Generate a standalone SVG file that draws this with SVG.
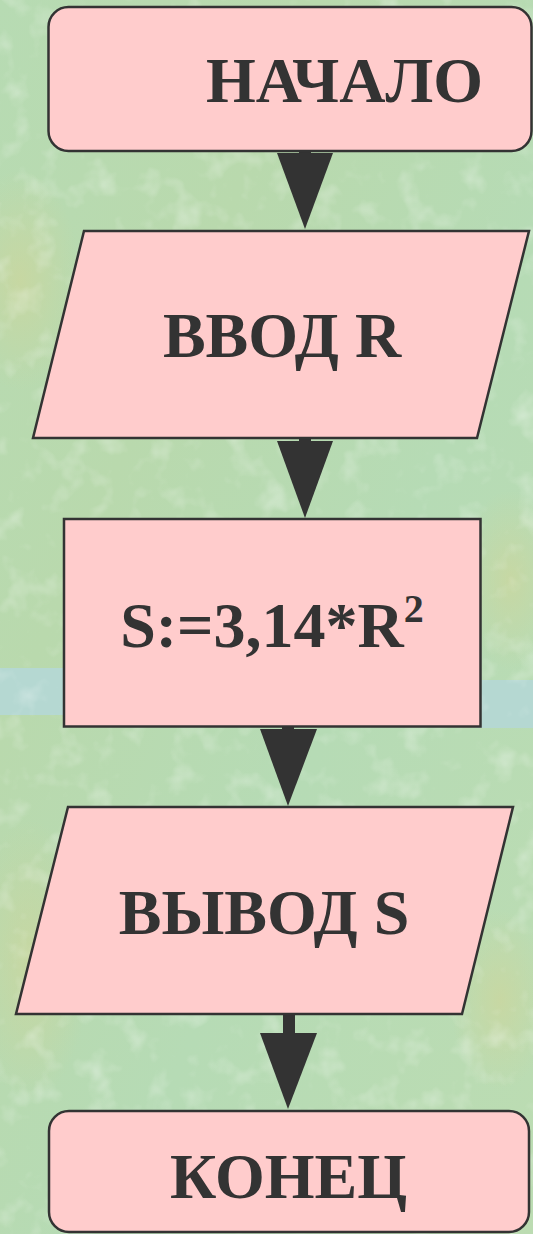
<svg xmlns="http://www.w3.org/2000/svg" width="533" height="1234" viewBox="0 0 533 1234">
<style>
.box{fill:#ffcccc;stroke:#333333;stroke-width:2.5;stroke-linejoin:miter}
.lbl{font-family:"Liberation Serif","Times New Roman",serif;font-weight:bold;font-size:64px;fill:#333333;text-anchor:middle}
.arr{fill:#333333;stroke:none}
</style>
<defs>
<linearGradient id="bg" x1="0" y1="0" x2="1" y2="1">
<stop offset="0" stop-color="#b7dbb3"/>
<stop offset="0.3" stop-color="#b9d9ad"/>
<stop offset="0.6" stop-color="#b6dbb5"/>
<stop offset="1" stop-color="#bcdcb2"/>
</linearGradient>
<radialGradient id="yel" cx="0.5" cy="0.5" r="0.5">
<stop offset="0" stop-color="#cdd69c" stop-opacity="0.7"/>
<stop offset="1" stop-color="#cdd69c" stop-opacity="0"/>
</radialGradient>
<filter id="tex" x="0" y="0" width="100%" height="100%">
<feTurbulence type="fractalNoise" baseFrequency="0.035" numOctaves="3" seed="7" result="n"/>
<feColorMatrix in="n" type="matrix" values="0 0 0 0 1  0 0 0 0 1  0 0 0 0 1  0 0 0 2.2 -1.15"/>
</filter>
</defs>
<g id="background">
<rect x="0" y="0" width="533" height="1234" fill="url(#bg)"/>
<ellipse cx="20" cy="280" rx="60" ry="110" fill="url(#yel)"/>
<ellipse cx="30" cy="960" rx="60" ry="140" fill="url(#yel)"/>
<ellipse cx="510" cy="580" rx="50" ry="90" fill="url(#yel)"/>
<ellipse cx="500" cy="1000" rx="50" ry="90" fill="url(#yel)"/>
<rect x="0" y="668" width="70" height="47" fill="#b5d8d2"/>
<rect x="475" y="680" width="58" height="48" fill="#b5d8d2"/>
<rect x="0" y="0" width="533" height="1234" filter="url(#tex)" opacity="0.35"/>
</g>
<g id="connectors">
<rect class="arr" x="299" y="151" width="12" height="3"/>
<polygon class="arr" points="277,153 333,153 305,229"/>
<rect class="arr" x="299" y="438" width="12" height="4"/>
<polygon class="arr" points="277,441 333,441 305,518"/>
<rect class="arr" x="282" y="726" width="12" height="4"/>
<polygon class="arr" points="260,729 317,729 288,806"/>
<rect class="arr" x="283" y="1014" width="12" height="20"/>
<polygon class="arr" points="260,1033 317,1033 288,1109"/>
</g>
<g id="start">
<rect class="box" x="48.5" y="7" width="483" height="144" rx="20" ry="20"/>
<text class="lbl" x="344.5" y="102">НАЧАЛО</text>
</g>
<g id="input">
<polygon class="box" points="84,231 529,231 477,438 33,438"/>
<text class="lbl" x="282" y="357">ВВОД R</text>
</g>
<g id="process">
<rect class="box" x="64" y="519" width="416.5" height="207.5"/>
<text class="lbl" x="272" y="647" font-size="66">S:=3,14*R<tspan font-size="40" dy="-25">2</tspan></text>
</g>
<g id="output">
<polygon class="box" points="68,807 513,807 462,1014 16,1014"/>
<text class="lbl" x="264" y="934">ВЫВОД S</text>
</g>
<g id="end">
<rect class="box" x="49" y="1111" width="480" height="121" rx="20" ry="20"/>
<text class="lbl" x="288.5" y="1198">КОНЕЦ</text>
</g>
</svg>
